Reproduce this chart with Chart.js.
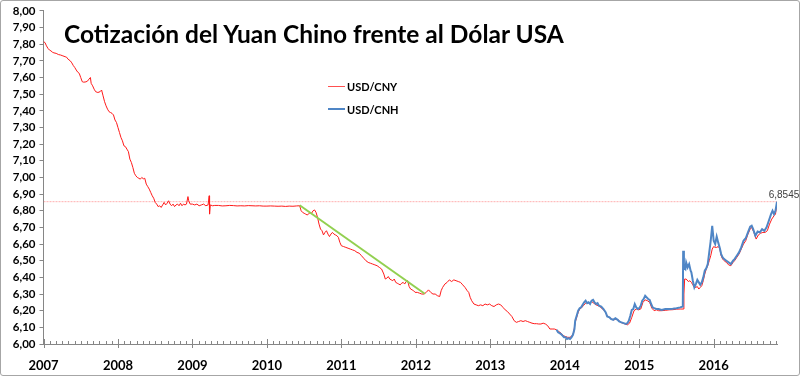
<!DOCTYPE html>
<html>
<head>
<meta charset="utf-8">
<script src="https://cdn.jsdelivr.net/npm/chart.js@4"></script>
<style>
body{margin:0;background:#fff;}
#wrap{position:relative;width:800px;height:376px;}
#frame{position:absolute;left:0;top:0;width:800px;height:376px;box-sizing:border-box;border:1px solid #a6a6a6;border-radius:3px;pointer-events:none;}
#title{position:absolute;left:64px;top:22px;font:bold 24.5px Lato;line-height:24px;color:#000;white-space:nowrap;}
.leg{position:absolute;left:328px;height:12px;display:flex;align-items:center;font:bold 11px Lato;color:#000;}
.leg span{display:inline-block;width:17px;margin-right:2px;}
</style>
</head>
<body>
<div id="wrap">
<canvas id="myChart" width="800" height="376"></canvas>
<div id="title">Cotización del Yuan Chino frente al Dólar USA</div>
<div class="leg" style="top:80px"><span style="height:1px;background:#ff5050"></span>USD/CNY</div>
<div class="leg" style="top:103px"><span style="height:2px;background:#4f86c6"></span>USD/CNH</div>
<div id="frame"></div>
</div>
<script>
// USD/CNY (x = year as decimal)
const cnyYears = [2007.00,2007.02,2007.04,2007.06,2007.08,2007.10,2007.12,2007.14,2007.17,2007.20,2007.23,2007.26,2007.29,2007.31,2007.33,2007.36,2007.38,2007.40,2007.42,2007.44,2007.46,2007.48,2007.50,2007.52,2007.54,2007.57,2007.59,2007.61,2007.63,2007.64,2007.66,2007.68,2007.70,2007.73,2007.76,2007.78,2007.80,2007.82,2007.84,2007.86,2007.88,2007.90,2007.92,2007.94,2007.96,2007.98,
2008.00,2008.02,2008.04,2008.06,2008.08,2008.10,2008.12,2008.14,2008.16,2008.18,2008.20,2008.22,2008.24,2008.26,2008.28,2008.30,2008.32,2008.34,2008.36,2008.38,2008.40,2008.42,2008.44,2008.46,2008.48,2008.50,2008.52,2008.54,2008.56,2008.58,2008.60,2008.62,2008.64,2008.66,2008.68,2008.70,2008.72,2008.74,2008.76,2008.78,2008.80,2008.82,2008.84,2008.86,2008.88,2008.90,2008.92,2008.94,2008.95,2008.97,
2009.00,2009.03,2009.06,2009.09,2009.12,2009.15,2009.18,2009.21,2009.225,2009.23,2009.24,2009.27,2009.30,2009.35,2009.40,2009.45,2009.50,2009.55,2009.60,2009.65,2009.70,2009.75,2009.80,2009.85,2009.90,2009.95,
2010.00,2010.05,2010.10,2010.15,2010.20,2010.25,2010.30,2010.35,2010.40,2010.44,2010.46,2010.48,2010.50,2010.52,2010.54,2010.56,2010.58,2010.60,2010.62,2010.64,2010.66,2010.68,2010.70,2010.72,2010.74,2010.76,2010.78,2010.80,2010.82,2010.84,2010.86,2010.88,2010.90,2010.92,2010.94,2010.96,2010.98,
2011.00,2011.03,2011.06,2011.09,2011.12,2011.15,2011.18,2011.21,2011.24,2011.27,2011.30,2011.33,2011.36,2011.39,2011.42,2011.45,2011.48,2011.51,2011.54,2011.57,2011.59,2011.61,2011.63,2011.65,2011.67,2011.69,2011.71,2011.73,2011.75,2011.77,2011.79,2011.81,2011.83,2011.85,2011.87,2011.89,2011.91,2011.93,2011.95,2011.97,2011.99,
2012.02,2012.05,2012.08,2012.11,2012.14,2012.17,2012.20,2012.23,2012.26,2012.29,2012.32,2012.34,2012.36,2012.39,2012.42,2012.45,2012.48,2012.51,2012.54,2012.57,2012.60,2012.63,2012.66,2012.69,2012.71,2012.73,2012.75,2012.78,2012.81,2012.84,2012.87,2012.90,2012.93,2012.96,2012.99,
2013.02,2013.05,2013.08,2013.11,2013.14,2013.17,2013.20,2013.23,2013.26,2013.29,2013.32,2013.35,2013.38,2013.41,2013.44,2013.47,2013.50,2013.53,2013.56,2013.59,2013.62,2013.65,2013.68,2013.71,2013.74,2013.77,2013.80,2013.83,2013.86,2013.89,2013.92,2013.95,2013.98,
2014.01,2014.04,2014.07,2014.10,2014.12,2014.14,2014.16,2014.18,2014.20,2014.22,2014.25,2014.28,2014.30,2014.33,2014.36,2014.39,2014.42,2014.45,2014.48,2014.51,2014.54,2014.57,2014.60,2014.63,2014.66,2014.69,2014.72,2014.75,2014.78,2014.81,2014.84,2014.87,2014.90,2014.93,2014.96,2014.99,
2015.02,2015.05,2015.08,2015.11,2015.14,2015.17,2015.20,2015.23,2015.26,2015.30,2015.35,2015.40,2015.45,2015.50,2015.55,2015.59,2015.60,2015.61,2015.63,2015.66,2015.68,2015.70,2015.72,2015.74,2015.76,2015.78,2015.80,2015.82,2015.84,2015.86,2015.88,2015.90,2015.92,2015.94,2015.96,2015.98,
2016.00,2016.02,2016.04,2016.06,2016.08,2016.10,2016.12,2016.14,2016.17,2016.20,2016.23,2016.26,2016.28,2016.31,2016.34,2016.37,2016.40,2016.43,2016.46,2016.49,2016.51,2016.54,2016.57,2016.60,2016.63,2016.66,2016.69,2016.72,2016.75,2016.78,2016.81,2016.83,2016.85];
const cnyValues = [7.815,7.81,7.79,7.775,7.765,7.76,7.752,7.748,7.745,7.738,7.735,7.73,7.725,7.722,7.71,7.70,7.688,7.672,7.66,7.645,7.632,7.625,7.60,7.575,7.572,7.574,7.578,7.59,7.60,7.565,7.55,7.53,7.515,7.51,7.515,7.525,7.49,7.455,7.43,7.41,7.395,7.39,7.385,7.375,7.345,7.33,
7.30,7.27,7.24,7.22,7.19,7.185,7.17,7.155,7.11,7.09,7.06,7.025,7.01,7.00,6.995,6.99,7.00,6.992,6.995,6.96,6.945,6.93,6.91,6.89,6.875,6.85,6.84,6.825,6.83,6.82,6.835,6.85,6.835,6.845,6.86,6.84,6.83,6.84,6.825,6.835,6.84,6.83,6.845,6.83,6.84,6.835,6.84,6.885,6.86,6.84,
6.84,6.835,6.84,6.83,6.835,6.84,6.83,6.835,6.89,6.78,6.835,6.83,6.832,6.832,6.829,6.83,6.832,6.831,6.829,6.830,6.829,6.831,6.830,6.829,6.830,6.828,
6.828,6.829,6.828,6.827,6.828,6.826,6.828,6.827,6.829,6.83,6.80,6.79,6.785,6.78,6.775,6.78,6.79,6.785,6.80,6.805,6.79,6.76,6.72,6.69,6.68,6.655,6.67,6.68,6.66,6.645,6.66,6.67,6.66,6.655,6.65,6.64,6.61,
6.59,6.585,6.58,6.575,6.57,6.565,6.56,6.55,6.545,6.53,6.515,6.50,6.49,6.485,6.48,6.475,6.47,6.46,6.45,6.42,6.39,6.395,6.405,6.39,6.385,6.38,6.39,6.37,6.365,6.36,6.355,6.365,6.37,6.36,6.375,6.38,6.345,6.33,6.325,6.32,6.31,
6.31,6.305,6.30,6.30,6.31,6.325,6.31,6.30,6.30,6.29,6.285,6.32,6.34,6.36,6.37,6.385,6.375,6.385,6.38,6.375,6.37,6.355,6.34,6.32,6.31,6.28,6.26,6.24,6.235,6.23,6.235,6.23,6.24,6.235,6.24,
6.23,6.225,6.235,6.24,6.235,6.22,6.205,6.195,6.18,6.165,6.14,6.13,6.135,6.14,6.135,6.14,6.135,6.13,6.125,6.122,6.122,6.12,6.12,6.125,6.12,6.11,6.09,6.09,6.09,6.085,6.075,6.065,6.05,
6.045,6.04,6.04,6.05,6.07,6.13,6.16,6.19,6.21,6.215,6.23,6.245,6.25,6.245,6.255,6.245,6.235,6.23,6.22,6.21,6.195,6.17,6.16,6.15,6.145,6.15,6.145,6.13,6.125,6.12,6.115,6.125,6.16,6.20,6.21,6.205,
6.21,6.25,6.265,6.26,6.25,6.215,6.20,6.205,6.20,6.20,6.202,6.205,6.206,6.209,6.21,6.21,6.30,6.39,6.39,6.375,6.38,6.37,6.355,6.34,6.34,6.345,6.33,6.34,6.35,6.38,6.42,6.45,6.47,6.50,6.53,6.57,
6.585,6.58,6.58,6.585,6.575,6.53,6.51,6.50,6.49,6.475,6.47,6.49,6.50,6.52,6.54,6.57,6.60,6.62,6.66,6.69,6.70,6.67,6.63,6.655,6.665,6.67,6.67,6.68,6.72,6.75,6.77,6.78,6.845];

// USD/CNH
const cnhYears = [2013.89,2013.91,2013.93,2013.95,2013.97,2013.99,
2014.01,2014.03,2014.05,2014.07,2014.09,2014.11,2014.13,2014.14,2014.16,2014.18,2014.20,2014.22,2014.24,2014.26,2014.28,2014.30,2014.32,2014.34,2014.36,2014.38,2014.40,2014.42,2014.44,2014.46,2014.49,2014.52,2014.55,2014.57,2014.60,2014.62,2014.65,2014.68,2014.71,2014.73,2014.76,2014.79,2014.82,2014.84,2014.86,2014.88,2014.90,2014.92,2014.94,2014.96,2014.98,
2015.00,2015.02,2015.04,2015.06,2015.08,2015.10,2015.12,2015.14,2015.16,2015.18,2015.20,2015.23,2015.26,2015.30,2015.35,2015.40,2015.45,2015.50,2015.55,2015.585,2015.59,2015.60,2015.62,2015.63,2015.65,2015.67,2015.69,2015.70,2015.72,2015.74,2015.76,2015.78,2015.80,2015.82,2015.84,2015.86,2015.88,2015.90,2015.92,2015.94,2015.96,2015.98,
2016.00,2016.02,2016.04,2016.06,2016.08,2016.10,2016.12,2016.14,2016.17,2016.20,2016.23,2016.26,2016.28,2016.31,2016.34,2016.37,2016.40,2016.43,2016.46,2016.49,2016.51,2016.53,2016.56,2016.59,2016.62,2016.65,2016.68,2016.71,2016.74,2016.77,2016.79,2016.81,2016.83,2016.85];
const cnhValues = [6.085,6.07,6.065,6.06,6.05,6.04,
6.04,6.03,6.035,6.03,6.04,6.055,6.09,6.14,6.17,6.20,6.215,6.22,6.235,6.25,6.26,6.245,6.25,6.24,6.26,6.265,6.25,6.24,6.245,6.23,6.225,6.21,6.19,6.165,6.16,6.15,6.145,6.155,6.145,6.135,6.13,6.125,6.12,6.125,6.14,6.17,6.205,6.21,6.24,6.22,6.21,
6.215,6.23,6.26,6.27,6.29,6.28,6.27,6.265,6.24,6.22,6.215,6.21,6.21,6.205,6.21,6.21,6.212,6.215,6.22,6.225,6.56,6.46,6.45,6.49,6.46,6.48,6.44,6.43,6.38,6.34,6.36,6.385,6.37,6.355,6.37,6.40,6.44,6.455,6.48,6.55,6.62,6.71,
6.62,6.60,6.645,6.61,6.58,6.54,6.52,6.51,6.50,6.49,6.48,6.50,6.51,6.53,6.55,6.58,6.62,6.635,6.67,6.705,6.71,6.69,6.65,6.675,6.67,6.69,6.68,6.70,6.74,6.78,6.80,6.78,6.80,6.8545];

// green trend after the 2010 depeg
const trendYears = [2010.44, 2012.12];
const trendValues = [6.833, 6.302];

// last quote reference line
const lastQuote = 6.8545;
const xMin = 2007, xMax = 2016.85;
const yMin = 6, yMax = 8;

const fmt = v => Number(v).toFixed(2).replace('.', ',');
const toPts = (xs, ys) => xs.map((x, i) => ({x: x, y: ys[i]}));

let monthTicks = [];
for (let m = 0; (xMin + m / 12) <= xMax + 1e-6; m++) monthTicks.push(xMin + m / 12);
const isYear = v => Math.abs(v - Math.round(v)) < 1e-6;

const axisColor = '#868686';

const extras = {
  id: 'extras',
  afterDraw(chart) {
    const ctx = chart.ctx;
    const xs = chart.scales.x, ys = chart.scales.y;
    const b = chart.chartArea.bottom;
    ctx.save();
    ctx.strokeStyle = axisColor;
    ctx.lineWidth = 1;
    monthTicks.forEach(v => {
      const px = Math.round(xs.getPixelForValue(v)) + 0.5;
      ctx.beginPath();
      if (isYear(v)) { ctx.moveTo(px, b - 5); ctx.lineTo(px, b + 4); }
      else { ctx.moveTo(px, b - 3); ctx.lineTo(px, b); }
      ctx.stroke();
    });
    ctx.fillStyle = '#404040';
    ctx.font = '10px "Liberation Sans"';
    ctx.textAlign = 'center';
    ctx.fillText(String(lastQuote).replace('.', ','), xs.getPixelForValue(xMax) + 7, ys.getPixelForValue(lastQuote) - 4);
    ctx.restore();
  }
};

new Chart("myChart", {
  type: "line",
  data: {
    datasets: [
      {label: 'USD/CNY', data: toPts(cnyYears, cnyValues), borderColor: '#ff1a1a', borderWidth: 1, pointRadius: 0, tension: 0, order: 2},
      {label: 'USD/CNH', data: toPts(cnhYears, cnhValues), borderColor: '#4f86c6', borderWidth: 2, pointRadius: 0, tension: 0, order: 1},
      {label: 'trend', data: toPts(trendYears, trendValues), borderColor: '#92d050', borderWidth: 2, pointRadius: 0, order: 0},
      {label: 'last', data: toPts([xMin, xMax], [lastQuote, lastQuote]), borderColor: 'rgba(255,110,110,0.55)', borderWidth: 1, borderDash: [2, 1], pointRadius: 0, order: 3}
    ]
  },
  options: {
    responsive: false,
    animation: false,
    layout: {padding: {left: 0, right: 23, top: 8, bottom: 0}},
    plugins: {legend: {display: false}, tooltip: {enabled: false}},
    scales: {
      x: {
        type: 'linear', min: xMin, max: xMax,
        afterBuildTicks: s => { s.ticks = monthTicks.map(v => ({value: v})); },
        afterFit: s => { s.height = 32; },
        grid: {display: false},
        border: {color: axisColor},
        ticks: {autoSkip: false, maxRotation: 0, padding: 6, color: '#000', font: {family: 'Lato', size: 13, weight: 'bold'},
          callback: v => isYear(v) ? String(Math.round(v)) : ''}
      },
      y: {
        min: yMin, max: yMax,
        afterFit: s => { s.width = 43.5; },
        grid: {drawOnChartArea: false, tickLength: 4, color: axisColor},
        border: {color: axisColor},
        ticks: {stepSize: 0.1, autoSkip: false, padding: 4, color: '#000', font: {family: 'Lato', size: 11.5, weight: 'bold'}, callback: fmt}
      }
    }
  },
  plugins: [extras]
});
</script>
</body>
</html>
